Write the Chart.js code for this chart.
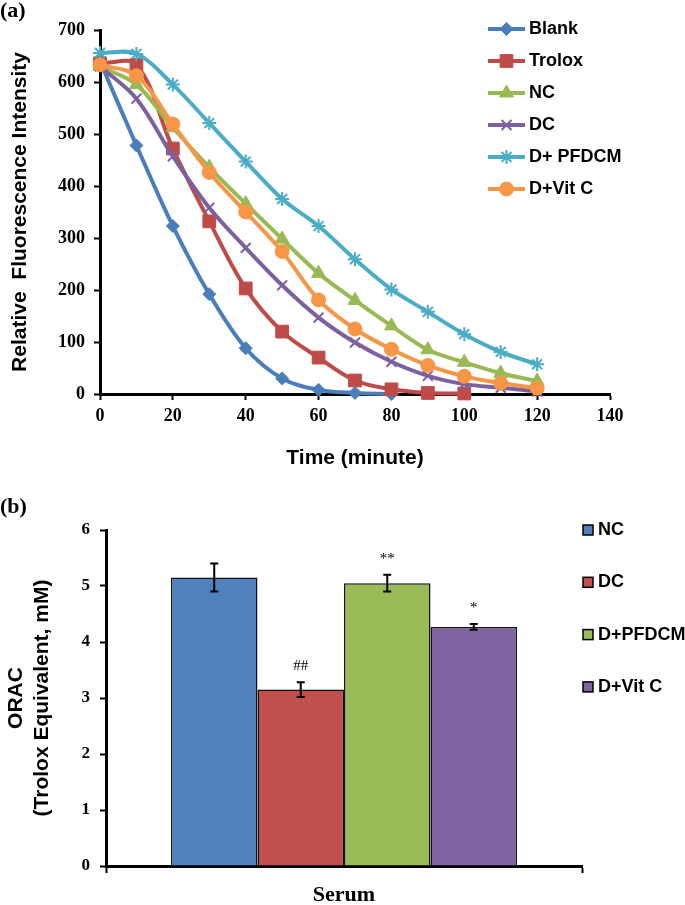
<!DOCTYPE html>
<html>
<head>
<meta charset="utf-8">
<title>ORAC</title>
<script src="https://cdn.jsdelivr.net/npm/chart.js@4.4.1/dist/chart.umd.min.js"></script>
<style>
  html, body { margin: 0; padding: 0; background: #fff; }
  canvas { display: block; }
</style>
</head>
<body>
<canvas id="fluorescence-chart" width="685" height="480"></canvas>
<canvas id="orac-chart" width="685" height="425"></canvas>
<script>
// Panel (a) - fluorescence decay
const times = [0, 10, 20, 30, 40, 50, 60, 70, 80, 90, 100, 110, 120];
const blank = [640, 478, 323, 192, 88, 30, 8, 2, 0];
const trolox = [636, 633, 472, 332, 203, 120, 70, 26, 9, 2, 1];
const nc = [630, 595, 512, 436, 366, 298, 232, 180, 131, 85, 61, 40, 25];
const dc = [630, 568, 457, 358, 281, 209, 147, 99, 62, 35, 19, 12, 5];
const pfdcm = [656, 654, 595, 521, 447, 375, 323, 259, 201, 158, 115, 81, 57];
const vitC = [633, 612, 519, 426, 350, 274, 181, 125, 86, 55, 34, 21, 11];
const lineLabels = ['Blank', 'Trolox', 'NC', 'DC', 'D+ PFDCM', 'D+Vit C'];

// Panel (b) - ORAC bars
const oracCategory = ['Serum'];
const oracGroups = ['NC', 'DC', 'D+PFDCM', 'D+Vit C'];
const oracValues = [5.15, 3.15, 5.05, 4.27];
const oracErrors = [0.25, 0.13, 0.15, 0.05];
const oracMarks = ['', '##', '**', '*'];

const SERIF = '"Liberation Serif", "Times New Roman", serif';
const SANS = '"Liberation Sans", Arial, sans-serif';

// legend for line panel, drawn inside the plot area like the original
const lineLegendPlugin = {
  id: 'lineLegend',
  afterDraw(chart, args, opts) {
    const ctx = chart.ctx;
    ctx.save();
    chart.data.datasets.forEach((ds, i) => {
      const y = opts.y + i * opts.gap;
      ctx.strokeStyle = ds.borderColor;
      ctx.lineWidth = ds.borderWidth;
      ctx.beginPath();
      ctx.moveTo(opts.x, y);
      ctx.lineTo(opts.x + opts.lineLength, y);
      ctx.stroke();

      ctx.fillStyle = ds.pointBackgroundColor;
      ctx.strokeStyle = ds.pointBorderColor;
      ctx.lineWidth = ds.pointBorderWidth;
      Chart.helpers.drawPoint(ctx, {
        pointStyle: ds.pointStyle,
        radius: ds.pointRadius,
        borderWidth: ds.pointBorderWidth,
        rotation: 0
      }, opts.x + opts.lineLength / 2, y);

      ctx.fillStyle = '#000';
      ctx.font = 'bold 18px ' + SANS;
      ctx.textBaseline = 'middle';
      ctx.textAlign = 'left';
      ctx.fillText(ds.label, opts.x + opts.lineLength + opts.textGap, y);
    });
    ctx.restore();
  }
};

// box legend for the bar panel
const boxLegendPlugin = {
  id: 'boxLegend',
  afterDraw(chart, args, opts) {
    const ctx = chart.ctx;
    ctx.save();
    chart.data.datasets.forEach((ds, i) => {
      const y = opts.y + i * opts.gap;
      ctx.fillStyle = ds.backgroundColor;
      ctx.strokeStyle = '#000';
      ctx.lineWidth = 1.5;
      ctx.fillRect(opts.x, y - opts.box / 2, opts.box, opts.box);
      ctx.strokeRect(opts.x, y - opts.box / 2, opts.box, opts.box);
      ctx.fillStyle = '#000';
      ctx.font = 'bold 18px ' + SANS;
      ctx.textBaseline = 'middle';
      ctx.textAlign = 'left';
      ctx.fillText(ds.label, opts.x + opts.box + opts.textGap, y);
    });
    ctx.restore();
  }
};

// error bars and significance marks
const errorBarPlugin = {
  id: 'errorBars',
  afterDatasetsDraw(chart) {
    const ctx = chart.ctx;
    const yScale = chart.scales.y;
    ctx.save();
    chart.data.datasets.forEach((ds, i) => {
      const bar = chart.getDatasetMeta(i).data[0];
      if (!bar) return;
      const x = bar.x;
      const top = yScale.getPixelForValue(oracValues[i] + oracErrors[i]);
      const bottom = yScale.getPixelForValue(oracValues[i] - oracErrors[i]);
      ctx.strokeStyle = '#000';
      ctx.lineWidth = 2;
      ctx.beginPath();
      ctx.moveTo(x, top); ctx.lineTo(x, bottom);
      ctx.moveTo(x - 4, top); ctx.lineTo(x + 4, top);
      ctx.moveTo(x - 4, bottom); ctx.lineTo(x + 4, bottom);
      ctx.stroke();

      if (oracMarks[i]) {
        ctx.fillStyle = '#000';
        ctx.font = '15px ' + SERIF;
        ctx.textAlign = 'center';
        ctx.textBaseline = 'alphabetic';
        ctx.fillText(oracMarks[i], x, top - 12);
      }
    });
    ctx.restore();
  }
};

/**
 * Panel (a): relative fluorescence intensity over time
 */
function initFluorescenceChart() {
  const canvas = document.getElementById('fluorescence-chart');
  if (!canvas) return;

  const series = [blank, trolox, nc, dc, pfdcm, vitC];
  const colors = ['#4A7EBB', '#BE4B48', '#98B954', '#7D60A0', '#4BACC6', '#F79646'];
  const styles = ['rectRot', 'rect', 'triangle', 'crossRot', 'star', 'circle'];
  const radii = [6.5, 9, 8, 7, 7, 7];
  const markerBorders = [1, 1, 1, 2, 2, 1];

  const datasets = series.map((values, i) => ({
    label: lineLabels[i],
    data: values.map((v, j) => ({ x: times[j], y: v })),
    borderColor: colors[i],
    backgroundColor: colors[i],
    borderWidth: 4,
    tension: 0.35,
    pointStyle: styles[i],
    pointRadius: radii[i],
    pointHoverRadius: radii[i],
    pointBackgroundColor: colors[i],
    pointBorderColor: colors[i],
    pointBorderWidth: markerBorders[i],
    clip: false,
    order: series.length - i
  }));

  try {
    const existingChart = Chart.getChart(canvas);
    if (existingChart) existingChart.destroy();

    new Chart(canvas, {
      type: 'line',
      data: { datasets },
      plugins: [lineLegendPlugin],
      options: {
        responsive: false,
        animation: false,
        layout: { padding: { left: 0, right: 75, top: 0, bottom: 0 } },
        plugins: {
          legend: { display: false },
          tooltip: { enabled: false },
          title: {
            display: true,
            text: '(a)',
            align: 'start',
            color: '#000',
            font: { family: SERIF, size: 22, weight: 'bold', lineHeight: 1 },
            padding: { top: 0, bottom: 8 }
          },
          lineLegend: { x: 488, y: 29, gap: 32, lineLength: 37, textGap: 4 }
        },
        scales: {
          x: {
            type: 'linear',
            min: 0,
            max: 140,
            afterFit: (scale) => { scale.height = 86; },
            ticks: {
              stepSize: 20,
              color: '#000',
              padding: 6,
              font: { family: SERIF, size: 18, weight: 'bold' }
            },
            grid: {
              drawOnChartArea: false,
              drawTicks: true,
              tickLength: 6,
              tickWidth: 2,
              tickColor: '#000'
            },
            border: { display: true, color: '#000', width: 3 },
            title: {
              display: true,
              text: 'Time (minute)',
              color: '#000',
              font: { family: SANS, size: 21, weight: 'bold' },
              padding: { top: 0, bottom: 9 }
            }
          },
          y: {
            min: 0,
            max: 700,
            afterFit: (scale) => { scale.width = 100; },
            ticks: {
              stepSize: 100,
              color: '#000',
              padding: 9,
              font: { family: SERIF, size: 18, weight: 'bold' }
            },
            grid: {
              drawOnChartArea: false,
              drawTicks: true,
              tickLength: 6,
              tickWidth: 2,
              tickColor: '#000'
            },
            border: { display: true, color: '#000', width: 3 },
            title: {
              display: true,
              text: 'Relative  Fluorescence Intensity',
              color: '#000',
              font: { family: SANS, size: 21, weight: 'bold' },
              padding: { top: 8, bottom: 0 }
            }
          }
        }
      }
    });
  } catch (error) {
    console.error('Failed to init fluorescence chart:', error);
  }
}

/**
 * Panel (b): ORAC values of serum with error bars
 */
function initOracChart() {
  const canvas = document.getElementById('orac-chart');
  if (!canvas) return;

  const barColors = ['#4F81BD', '#C0504D', '#9BBB59', '#8064A2'];

  const datasets = oracGroups.map((name, i) => ({
    label: name,
    data: [oracValues[i]],
    backgroundColor: barColors[i],
    borderColor: '#111',
    borderWidth: 1.5,
    barPercentage: 1,
    categoryPercentage: 0.727
  }));

  try {
    const existingChart = Chart.getChart(canvas);
    if (existingChart) existingChart.destroy();

    new Chart(canvas, {
      type: 'bar',
      data: { labels: oracCategory, datasets },
      plugins: [errorBarPlugin, boxLegendPlugin],
      options: {
        responsive: false,
        animation: false,
        layout: { padding: { left: 0, right: 103, top: 0, bottom: 0 } },
        plugins: {
          legend: { display: false },
          tooltip: { enabled: false },
          title: {
            display: true,
            text: '(b)',
            align: 'start',
            color: '#000',
            font: { family: SERIF, size: 22, weight: 'bold', lineHeight: 1 },
            padding: { top: 16, bottom: 12 }
          },
          boxLegend: { x: 583, y: 50, gap: 52.3, box: 10, textGap: 5 }
        },
        scales: {
          x: {
            afterFit: (scale) => { scale.height = 39; },
            ticks: {
              color: '#000',
              padding: 9,
              font: { family: SERIF, size: 22, weight: 'bold' }
            },
            grid: {
              offset: true,
              drawOnChartArea: false,
              drawTicks: true,
              tickLength: 7,
              tickWidth: 2,
              tickColor: '#000'
            },
            border: { display: true, color: '#000', width: 3 }
          },
          y: {
            min: 0,
            max: 6,
            afterFit: (scale) => { scale.width = 106; },
            ticks: {
              stepSize: 1,
              color: '#000',
              padding: 10,
              font: { family: SERIF, size: 17, weight: 'bold' }
            },
            grid: {
              drawOnChartArea: false,
              drawTicks: true,
              tickLength: 6,
              tickWidth: 2,
              tickColor: '#000'
            },
            border: { display: true, color: '#000', width: 3 },
            title: {
              display: true,
              text: ['ORAC', '(Trolox Equivalent, mM)'],
              color: '#000',
              font: { family: SANS, size: 21, weight: 'bold', lineHeight: 1.25 },
              padding: { top: 3, bottom: 0 }
            }
          }
        }
      }
    });
  } catch (error) {
    console.error('Failed to init ORAC chart:', error);
  }
}

initFluorescenceChart();
initOracChart();
</script>
</body>
</html>
